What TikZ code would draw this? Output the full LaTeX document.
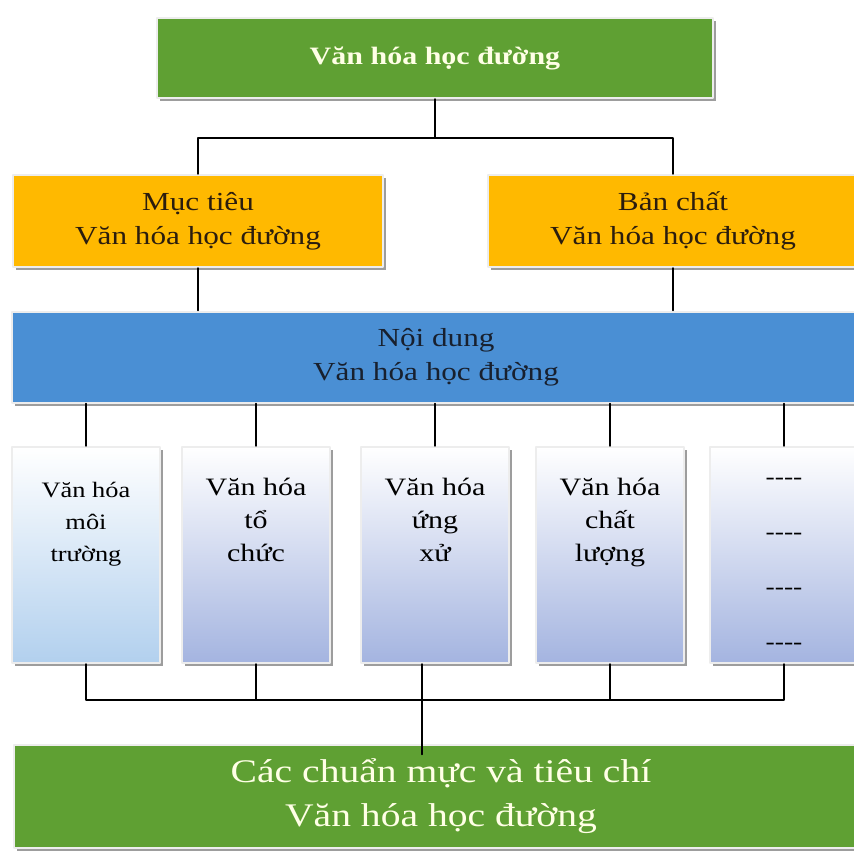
\documentclass[tikz,border=0pt]{standalone}
\usepackage{fontspec}
\setmainfont{Liberation Serif}[FakeStretch=1.2]
\usetikzlibrary{positioning,shadows}
\definecolor{leaf}{HTML}{5FA033}
\definecolor{amber}{HTML}{FFB900}
\definecolor{sky}{HTML}{4A8FD4}
\definecolor{cream}{HTML}{FFFFE6}
\definecolor{ink}{HTML}{2B1D0E}
\definecolor{navy}{HTML}{18202E}
\definecolor{paleblue}{RGB}{178,208,238}
\definecolor{lilac}{RGB}{164,180,224}
\tikzset{
  every picture/.style={
    line join=round,
    line cap=round,
  },
  % boxes share a pale frame and a grey shadow
  frame/.style={draw=black!7, line width=2pt,
    drop shadow={shadow xshift=3pt, shadow yshift=-3pt, fill=black!55, opacity=.7}},
  greenbox/.style={frame, fill=leaf, text=cream, align=center},
  goalbox/.style={frame, fill=amber, text=ink, align=center,
    minimum width=370pt, minimum height=92pt, font=\fontsize{26}{34}\selectfont},
  mainbox/.style={frame, fill=sky, text=navy, align=center,
    minimum width=848pt, minimum height=91pt, font=\fontsize{26}{34}\selectfont},
  itembox/.style={frame, top color=white, middle color=white!55!lilac, bottom color=lilac,
    minimum width=148pt, minimum height=216pt},
  itemtext/.style={align=center, inner sep=0pt, text=black, font=\fontsize{25}{33}\selectfont},
  link/.style={line width=1.4pt},
}
\begin{document}
\begin{tikzpicture}[x=1pt, y=-1pt]
    \useasboundingbox (0,0) rectangle (854,852);
    \clip (0,0) rectangle (854,852);

    % Top
    \node[greenbox, minimum width=556pt, minimum height=80pt,
      font=\bfseries\fontsize{25}{30}\selectfont] (school) at (435,58) {Văn hóa học đường};

    % Goal and nature
    \node[goalbox] (goal) at (198,221) {Mục tiêu\\Văn hóa học đường};
    \node[goalbox] (nature) at (673,221) {Bản chất\\Văn hóa học đường};
    \coordinate (fork) at (435,138);

    % Content
    \node[mainbox] (content) at (436,357) {Nội dung\\Văn hóa học đường};

    % Five parts
    \node[itembox, middle color=white!55!paleblue, bottom color=paleblue] (b1) at (86,555) {};
    \node[itembox] (b2) at (256,555) {};
    \node[itembox] (b3) at (435,555) {};
    \node[itembox] (b4) at (610,555) {};
    \node[itembox] (b5) at (784,555) {};
    \node[itemtext, font=\fontsize{22}{32}\selectfont, below=36pt of b1.north] {Văn hóa\\môi\\trường};
    \node[itemtext, below=32pt of b2.north] {Văn hóa\\tổ\\chức};
    \node[itemtext, below=32pt of b3.north] {Văn hóa\\ứng\\xử};
    \node[itemtext, below=32pt of b4.north] {Văn hóa\\chất\\lượng};
    \node[itemtext, font=\fontsize{23}{55}\selectfont, below=32pt of b5.north] {{-}{-}{-}{-}\\{-}{-}{-}{-}\\{-}{-}{-}{-}\\{-}{-}{-}{-}};
    \coordinate (join) at (422,700);

    % Bottom
    \node[greenbox, minimum width=854pt, minimum height=103pt,
      font=\fontsize{33}{44}\selectfont] (norms) at (441,796) {Các chuẩn mực và tiêu chí\\Văn hóa học đường};

    % Connectors
    \draw[link] (school.south) -- (fork);
    \draw[link] (goal.north) -- (goal.north |- fork) -- (nature.north |- fork) -- (nature.north);
    \draw[link] (goal.south) -- (goal.south |- content.north);
    \draw[link] (nature.south) -- (nature.south |- content.north);
    \foreach \i in {1,...,5}
      \draw[link] (content.south -| b\i.north) -- (b\i.north);
    \draw[link] (b1.south) -- (b1.south |- join) -- (b5.south |- join) -- (b5.south);
    \draw[link] (b2.south) -- (b2.south |- join);
    \draw[link] (b4.south) -- (b4.south |- join);
    \draw[link] (join |- b3.south) -- (join |- norms.north) -- ++(0,11);
\end{tikzpicture}
\end{document}
